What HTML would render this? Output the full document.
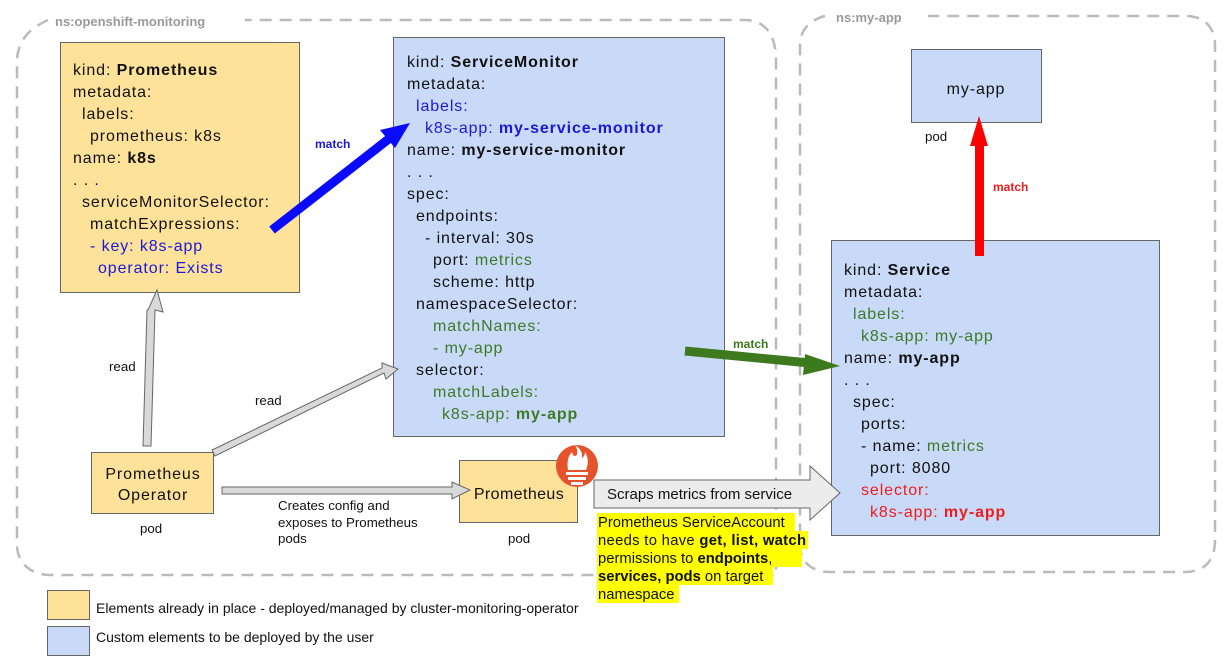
<!DOCTYPE html>
<html><head><meta charset="utf-8"><style>
html,body{margin:0;padding:0;background:#fff}
svg{display:block}
text{font-family:"Liberation Sans",sans-serif}
.y{font-size:16px;fill:#111;letter-spacing:0.9px}
.b{font-weight:bold}
.bl{fill:#1a1ad6}
.gr{fill:#3d7a28}
.rd{fill:#ee1c1c}
.s{font-size:13.3px;fill:#111}
</style></head><body>
<svg width="1224" height="657" viewBox="0 0 1224 657" xmlns="http://www.w3.org/2000/svg">
<rect width="1224" height="657" fill="#fff"/>
<path d="M48,20 C30,28 18,40 17,60 L17,545 C17,562 30,575 50,575 L776,575 L776,60 C776,35 765,20 745,20 L245,20" fill="none" stroke="#bbb" stroke-width="2.5" stroke-dasharray="12,8"/>
<text x="55" y="26" font-size="13" font-weight="bold" fill="#9a9a9a">ns:openshift-monitoring</text>
<path d="M825,16 C810,20 800,30 800,45 L800,545 C800,562 812,572 830,572 L1185,572 C1205,572 1215,560 1215,540 L1215,45 C1215,28 1205,16 1185,16 L928,16" fill="none" stroke="#bbb" stroke-width="2.5" stroke-dasharray="12,8"/>
<text x="836" y="22" font-size="13" font-weight="bold" fill="#9a9a9a">ns:my-app</text>

<rect x="60.5" y="42.5" width="239" height="250" fill="#fee29a" stroke="#666"/>
<g class="y">
<text x="73" y="75">kind: <tspan class="b">Prometheus</tspan></text>
<text x="73" y="97">metadata:</text>
<text x="82" y="119">labels:</text>
<text x="90" y="141">prometheus: k8s</text>
<text x="73" y="163">name: <tspan class="b">k8s</tspan></text>
<text x="73" y="185">. . .</text>
<text x="82" y="207">serviceMonitorSelector:</text>
<text x="90" y="229">matchExpressions:</text>
<text x="90" y="251" class="bl">- key: k8s-app</text>
<text x="98" y="273" class="bl">operator: Exists</text>
</g>

<rect x="393.5" y="37.5" width="331" height="399" fill="#c9daf8" stroke="#666"/>
<g class="y">
<text x="407" y="67">kind: <tspan class="b">ServiceMonitor</tspan></text>
<text x="407" y="89">metadata:</text>
<text x="416" y="111" class="bl">labels:</text>
<text x="425" y="133" class="bl">k8s-app: <tspan class="b">my-service-monitor</tspan></text>
<text x="407" y="155">name: <tspan class="b">my-service-monitor</tspan></text>
<text x="407" y="177">. . .</text>
<text x="407" y="199">spec:</text>
<text x="416" y="221">endpoints:</text>
<text x="425" y="243">- interval: 30s</text>
<text x="433" y="265">port: <tspan class="gr">metrics</tspan></text>
<text x="433" y="287">scheme: http</text>
<text x="416" y="309">namespaceSelector:</text>
<text x="433" y="331" class="gr">matchNames:</text>
<text x="433" y="353" class="gr">- my-app</text>
<text x="416" y="375">selector:</text>
<text x="433" y="397" class="gr">matchLabels:</text>
<text x="442" y="419" class="gr">k8s-app: <tspan class="b">my-app</tspan></text>
</g>

<rect x="911.5" y="49.5" width="130" height="73" fill="#c9daf8" stroke="#666"/>
<text x="976" y="94" text-anchor="middle" class="y">my-app</text>
<text x="925" y="141" class="s">pod</text>

<rect x="831.5" y="240.5" width="328" height="295" fill="#c9daf8" stroke="#666"/>
<g class="y">
<text x="844" y="275">kind: <tspan class="b">Service</tspan></text>
<text x="844" y="297">metadata:</text>
<text x="853" y="319" class="gr">labels:</text>
<text x="861" y="341" class="gr">k8s-app: my-app</text>
<text x="844" y="363">name: <tspan class="b">my-app</tspan></text>
<text x="844" y="385">. . .</text>
<text x="853" y="407">spec:</text>
<text x="861" y="429">ports:</text>
<text x="861" y="451">- name: <tspan class="gr">metrics</tspan></text>
<text x="870" y="473">port: 8080</text>
<text x="861" y="495" class="rd">selector:</text>
<text x="870" y="517" class="rd">k8s-app: <tspan class="b">my-app</tspan></text>
</g>

<rect x="91.5" y="452.5" width="122" height="61" fill="#fee29a" stroke="#666"/>
<text x="153" y="479" text-anchor="middle" class="y">Prometheus</text>
<text x="153" y="500" text-anchor="middle" class="y">Operator</text>
<text x="140" y="533" class="s">pod</text>

<rect x="459.5" y="460.5" width="118" height="62" fill="#fee29a" stroke="#666"/>
<text x="519" y="499" text-anchor="middle" class="y" style="letter-spacing:0.4px">Prometheus</text>
<text x="508" y="543" class="s">pod</text>
<circle cx="577" cy="466" r="21" fill="#e6522c"/>
<path d="M568,470 Q566,458 572,452 Q573,458 577,455 Q578,449 575,445 Q583,450 582,458 Q585,456 585,452 Q590,460 586,470 Z" fill="#fff"/>
<rect x="566" y="472" width="22" height="3" fill="#fff"/>
<rect x="568" y="477" width="18" height="3" fill="#fff"/>
<rect x="571" y="482" width="12" height="3" fill="#fff"/>

<polygon points="143,446 151,446 155,310 163,312 157,290 148,310 147,310" fill="#d9d9d9" stroke="#666"/>
<polygon points="212,450 215,456 384,373 386,379 398,369 382,363 382,368" fill="#d9d9d9" stroke="#666"/>
<text x="109" y="371" class="s">read</text>
<text x="255" y="405" class="s">read</text>
<polygon points="222,487 222,494 452,494 452,499 470,490 452,482 452,487" fill="#d9d9d9" stroke="#666"/>
<text x="278" y="510" class="s">Creates config and</text>
<text x="278" y="527" class="s">exposes to Prometheus</text>
<text x="278" y="543" class="s">pods</text>

<line x1="272" y1="230" x2="390" y2="138" stroke="#0a0aff" stroke-width="9"/>
<polygon points="410,123 380,130 395,148" fill="#0a0aff"/>
<text x="315" y="148" font-size="12" font-weight="bold" fill="#1a1ad6">match</text>

<rect x="975" y="140" width="9" height="116" fill="#ff0000"/>
<polygon points="979,116 970,146 988,146" fill="#ff0000"/>
<text x="993" y="191" font-size="12" font-weight="bold" fill="#ee1c1c">match</text>

<line x1="685" y1="351" x2="810" y2="363" stroke="#3d7a1e" stroke-width="9"/>
<polygon points="840,366 805,354 803,375" fill="#3d7a1e"/>
<text x="733" y="348" font-size="12" font-weight="bold" fill="#3d7a1e">match</text>

<polygon points="594,480 810,480 810,466 840,493 810,520 810,508 594,508" fill="#ececec" stroke="#666"/>
<text x="607" y="499" font-size="15" fill="#111">Scraps metrics from service</text>

<rect x="597" y="513" width="198" height="18" fill="#ffff00"/>
<rect x="597" y="531" width="211" height="18" fill="#ffff00"/>
<rect x="597" y="549" width="205" height="18" fill="#ffff00"/>
<rect x="597" y="567" width="176" height="18" fill="#ffff00"/>
<rect x="597" y="585" width="82" height="18" fill="#ffff00"/>
<g font-size="14.8" fill="#111">
<text x="598" y="527">Prometheus ServiceAccount</text>
<text x="598" y="545" textLength="208">needs to have <tspan font-weight="bold">get, list, watch</tspan></text>
<text x="598" y="563">permissions to <tspan font-weight="bold">endpoints</tspan>,</text>
<text x="598" y="581"><tspan font-weight="bold">services, pods</tspan> on target</text>
<text x="598" y="599">namespace</text>
</g>

<rect x="47.5" y="590.5" width="42" height="29" fill="#fee29a" stroke="#666"/>
<rect x="47.5" y="626.5" width="42" height="29" fill="#c9daf8" stroke="#666"/>
<text x="96" y="613" font-size="14" fill="#111">Elements already in place - deployed/managed by cluster-monitoring-operator</text>
<text x="96" y="642" font-size="14" fill="#111">Custom elements to be deployed by the user</text>
</svg>
</body></html>
